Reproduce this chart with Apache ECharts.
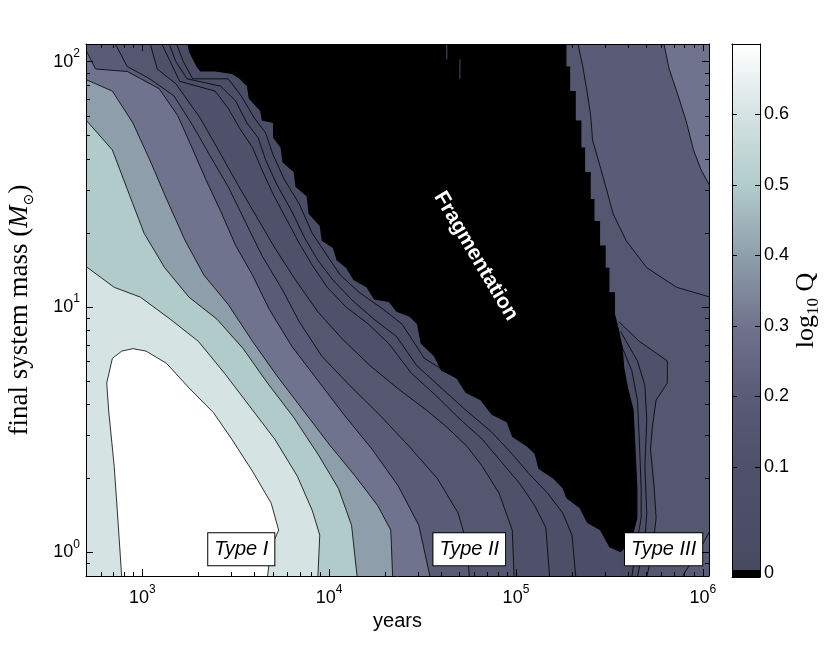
<!DOCTYPE html>
<html>
<head>
<meta charset="utf-8">
<title>log10 Q</title>
<script src="https://cdn.jsdelivr.net/npm/echarts@6.0.0/dist/echarts.min.js"></script>
<style>
  html, body { margin: 0; padding: 0; background: #fff; }
  #chart { width: 830px; height: 648px; }
</style>
</head>
<body>
<div id="chart"></div>
<script>
  // every point below is [log10(years), log10(final system mass / Msun)]
  var xLimits = [2.699, 6.033];
  var yLimits = [-0.0969, 2.072];
  var xMajor = [3, 4, 5, 6];
  var yMajor = [0, 1, 2];
  var minorMult = [2, 3, 4, 5, 6, 7, 8, 9];

  // colour bar (black cap = fragmentation)
  var cbLimits = [-0.056, 0.7];
  var cbBlack = [-0.056, -0.046];
  var cbTickValues = [0.1, 0.2, 0.3, 0.4, 0.5, 0.6];
  var cbLabelValues = [-0.051, 0.1, 0.2, 0.3, 0.4, 0.5, 0.6];
  var cbLabels = ['0', '0.1', '0.2', '0.3', '0.4', '0.5', '0.6'];
  var cmapValues = [-0.046, 0, 0.1, 0.2, 0.3, 0.4, 0.5, 0.6, 0.7];
  var cmapColors = ['#484a62', '#4b4c65', '#4f5069', '#5a5b77', '#70738d', '#8e9fab', '#b1cbcb', '#d5e3e3', '#ffffff'];

  // contours left of the fragmentation zone, named by log10 Q level
  var q07 = [[2.89,-0.1],[2.87,0.13],[2.85,0.35],[2.82,0.58],[2.81,0.69],[2.84,0.79],[2.89,0.82],[2.95,0.83],[3.02,0.82],[3.13,0.77],[3.25,0.67],[3.38,0.57],[3.48,0.46],[3.59,0.33],[3.69,0.20],[3.73,0.09],[3.69,0.02],[3.67,-0.1]];
  var q06 = [[2.69,1.17],[2.85,1.08],[2.99,1.04],[3.15,0.95],[3.30,0.86],[3.44,0.73],[3.57,0.60],[3.71,0.46],[3.83,0.31],[3.91,0.17],[3.95,0.07],[3.94,-0.1]];
  var q05 = [[2.69,1.77],[2.84,1.64],[2.92,1.48],[3.01,1.30],[3.12,1.16],[3.25,1.04],[3.40,0.95],[3.54,0.83],[3.67,0.69],[3.81,0.55],[3.94,0.40],[4.05,0.26],[4.12,0.11],[4.15,-0.1]];
  var q04 = [[2.69,1.93],[2.84,1.88],[2.95,1.75],[3.04,1.60],[3.13,1.44],[3.23,1.27],[3.33,1.13],[3.46,1.01],[3.59,0.86],[3.72,0.72],[3.86,0.58],[4.00,0.44],[4.14,0.31],[4.26,0.19],[4.33,0.09],[4.34,-0.1]];
  var q03 = [[2.69,2.06],[2.75,1.97],[2.92,1.96],[3.09,1.89],[3.19,1.78],[3.26,1.66],[3.34,1.52],[3.42,1.39],[3.50,1.25],[3.59,1.13],[3.68,0.99],[3.80,0.84],[3.94,0.70],[4.08,0.56],[4.23,0.42],[4.37,0.27],[4.48,0.11],[4.54,-0.1]];
  var q02 = [[2.85,2.08],[2.92,1.98],[3.04,1.93],[3.17,1.86],[3.27,1.74],[3.36,1.62],[3.46,1.49],[3.55,1.35],[3.64,1.21],[3.75,1.07],[3.84,0.94],[3.96,0.80],[4.11,0.68],[4.27,0.56],[4.43,0.43],[4.58,0.30],[4.69,0.16],[4.74,0.03],[4.75,-0.1]];
  var q015 = [[3.04,2.08],[3.08,1.97],[3.18,1.91],[3.31,1.77],[3.40,1.65],[3.51,1.50],[3.61,1.37],[3.71,1.24],[3.82,1.11],[3.94,0.98],[4.07,0.87],[4.22,0.76],[4.38,0.66],[4.52,0.58],[4.63,0.51],[4.74,0.43],[4.82,0.35],[4.91,0.24],[4.98,0.09],[4.99,-0.1]];
  var q01 = [[3.10,2.08],[3.15,2.00],[3.20,1.92],[3.39,1.88],[3.46,1.81],[3.52,1.73],[3.59,1.65],[3.64,1.56],[3.70,1.46],[3.77,1.36],[3.84,1.26],[3.91,1.17],[3.99,1.08],[4.09,1.00],[4.21,0.93],[4.32,0.85],[4.44,0.73],[4.57,0.64],[4.69,0.55],[4.82,0.46],[4.92,0.37],[5.02,0.28],[5.10,0.19],[5.16,0.10],[5.18,-0.1]];
  var q005 = [[3.14,2.08],[3.18,2.00],[3.24,1.93],[3.42,1.90],[3.50,1.84],[3.56,1.75],[3.62,1.69],[3.66,1.60],[3.72,1.50],[3.80,1.39],[3.87,1.28],[3.94,1.19],[4.02,1.11],[4.12,1.03],[4.24,0.95],[4.36,0.88],[4.47,0.76],[4.60,0.67],[4.73,0.58],[4.87,0.49],[4.98,0.40],[5.07,0.32],[5.17,0.24],[5.25,0.16],[5.30,0.07],[5.32,-0.1]];
  var q003 = [[3.18,2.08],[3.22,2.00],[3.27,1.93],[3.46,1.93],[3.53,1.86],[3.60,1.77],[3.66,1.71],[3.70,1.62],[3.76,1.52],[3.84,1.42],[3.91,1.30],[3.98,1.22],[4.06,1.13],[4.16,1.06],[4.29,0.99],[4.39,0.93],[4.51,0.79],[4.68,0.71]];

  // contours right of the fragmentation zone
  var rq03 = [[5.79,2.08],[5.82,1.97],[5.86,1.88],[5.91,1.76],[5.95,1.64],[5.99,1.56],[6.04,1.49]];
  var rq02 = [[5.33,2.08],[5.36,1.97],[5.38,1.88],[5.40,1.78],[5.41,1.68],[5.44,1.60],[5.47,1.52],[5.52,1.38],[5.59,1.27],[5.70,1.16],[5.86,1.08],[6.04,1.04]];
  var cornerQ02 = [[6.04,0.09],[5.99,0.02],[5.93,-0.05],[5.89,-0.1]];
  var rq015 = [[5.55,0.94],[5.66,0.86],[5.81,0.78],[5.81,0.69],[5.75,0.62],[5.73,0.51],[5.72,0.42],[5.74,0.26],[5.75,0.14],[5.73,0.00],[5.70,-0.1]];
  var rq01 = [[5.56,0.90],[5.65,0.78],[5.69,0.68],[5.70,0.54],[5.69,0.35],[5.70,0.16],[5.69,0.05],[5.65,-0.1]];
  var rq005 = [[5.55,0.87],[5.62,0.74],[5.65,0.62],[5.66,0.46],[5.67,0.26],[5.67,0.14],[5.65,0.05],[5.62,-0.1]];

  // fragmentation region (Q < 1): right edge top->tip, left edge tip->top
  var fragRight = [[5.27,2.08],[5.27,1.98],[5.29,1.98],[5.29,1.88],[5.32,1.88],[5.32,1.76],[5.35,1.76],[5.35,1.65],[5.37,1.65],[5.37,1.55],[5.40,1.55],[5.40,1.44],[5.42,1.44],[5.42,1.35],[5.45,1.35],[5.45,1.25],[5.48,1.25],[5.48,1.16],[5.50,1.16],[5.50,1.06],[5.53,1.06],[5.53,0.97],[5.55,0.91],[5.57,0.84],[5.58,0.75],[5.60,0.67],[5.63,0.58],[5.64,0.42],[5.65,0.26],[5.65,0.14],[5.63,0.08],[5.60,0.03],[5.56,0.00]];
  var fragLeft = [[5.50,0.02],[5.45,0.09],[5.38,0.12],[5.34,0.18],[5.27,0.22],[5.25,0.26],[5.20,0.30],[5.12,0.34],[5.10,0.40],[5.06,0.43],[4.98,0.47],[4.95,0.53],[4.87,0.56],[4.81,0.62],[4.73,0.65],[4.68,0.71],[4.60,0.74],[4.56,0.80],[4.49,0.85],[4.47,0.93],[4.43,0.96],[4.36,0.98],[4.32,1.02],[4.24,1.03],[4.20,1.08],[4.13,1.11],[4.09,1.16],[4.04,1.19],[4.02,1.24],[3.96,1.27],[3.95,1.33],[3.89,1.38],[3.88,1.45],[3.82,1.49],[3.81,1.55],[3.75,1.59],[3.74,1.65],[3.70,1.69],[3.70,1.75],[3.64,1.76],[3.63,1.80],[3.57,1.85],[3.56,1.90],[3.52,1.93],[3.48,1.95],[3.39,1.96],[3.31,1.96],[3.29,1.98],[3.27,2.01],[3.25,2.04],[3.24,2.08]];
  // thin unresolved streaks inside the fragmentation zone near the top
  var fragStreaks = [[[4.63,2.07],[4.63,2.01]], [[4.70,2.01],[4.70,1.93]]];

  var fragLabelPos = [4.785, 1.207];
  var typeLabels = ['Type I', 'Type II', 'Type III'];
  var typeLabelPos = [[3.53, 0.012], [4.75, 0.012], [5.79, 0.012]];

  var SANS = 'Liberation Sans, Arial, Helvetica, sans-serif';
  var SERIF = 'Liberation Serif, Times New Roman, serif';

  // outer frame used to close the filled regions (clipped by the grid)
  var X0 = 2.69, X1 = 6.04, Y0 = -0.1, Y1 = 2.08;

  function hexToRgb(h) {
    return [parseInt(h.substr(1, 2), 16), parseInt(h.substr(3, 2), 16), parseInt(h.substr(5, 2), 16)];
  }
  function colormap(v) {
    var n = cmapValues.length;
    if (v <= cmapValues[0]) return cmapColors[0];
    if (v >= cmapValues[n - 1]) return cmapColors[n - 1];
    for (var i = 1; i < n; i++) {
      if (v <= cmapValues[i]) {
        var t = (v - cmapValues[i - 1]) / (cmapValues[i] - cmapValues[i - 1]);
        var a = hexToRgb(cmapColors[i - 1]), b = hexToRgb(cmapColors[i]);
        return 'rgb(' + a.map(function (c, k) { return Math.round(c + (b[k] - c) * t); }).join(',') + ')';
      }
    }
  }

  function leftOf(line) {
    var pts = line.slice();
    pts.push([X0, Y0]);
    if (line[0][1] >= Y1) pts.push([X0, Y1]);
    return pts;
  }
  // line that ends on the fragmentation edge: follow that edge down to its tip
  function leftOfFragEnd(line) {
    var endY = line[line.length - 1][1];
    var edge = fragLeft.filter(function (p) { return p[1] < endY; }).reverse();
    var tip = fragRight[fragRight.length - 1];
    return line.concat(edge, [tip, [tip[0], Y0], [X0, Y0], [X0, Y1]]);
  }
  function rightOf(line) {
    var startY = line[0][1];
    var edge = fragRight.filter(function (p) { return p[1] > startY; });
    return line.concat([[X1, Y0], [X1, Y1]], edge);
  }
  function upperRight(line) { return line.concat([[X1, Y1]]); }
  function lowerRight(line) { return line.concat([[X1, Y0]]); }

  var layers = [
    { q: 0,    polys: [[[X0, Y0], [X1, Y0], [X1, Y1], [X0, Y1]]] },
    { q: 0.03, polys: [leftOfFragEnd(q003)] },
    { q: 0.05, polys: [leftOf(q005), rightOf(rq005)] },
    { q: 0.1,  polys: [leftOf(q01), rightOf(rq01)] },
    { q: 0.15, polys: [leftOf(q015), rightOf(rq015)] },
    { q: 0.2,  polys: [leftOf(q02), upperRight(rq02), lowerRight(cornerQ02)] },
    { q: 0.3,  polys: [leftOf(q03), upperRight(rq03)] },
    { q: 0.4,  polys: [leftOf(q04)] },
    { q: 0.5,  polys: [leftOf(q05)] },
    { q: 0.6,  polys: [leftOf(q06)] },
    { q: 0.7,  polys: [q07] }
  ];
  var contourLines = [q07, q06, q05, q04, q03, q02, q015, q01, q005, q003, rq03, rq02, cornerQ02, rq015, rq01, rq005];
  var fragPoly = fragRight.concat(fragLeft);

  function minorTicks(lim) {
    var out = [];
    for (var e = Math.floor(lim[0]); e <= Math.ceil(lim[1]); e++) {
      minorMult.forEach(function (m) {
        var v = e + Math.log10(m);
        if (v > lim[0] + 1e-6 && v < lim[1] - 1e-6) out.push(v);
      });
    }
    return out;
  }
  var xMinor = minorTicks(xLimits);
  var yMinor = minorTicks(yLimits);

  var powRich = {
    b: { fontFamily: SANS, fontSize: 18, lineHeight: 28, color: '#000' },
    s: { fontFamily: SANS, fontSize: 12, lineHeight: 12, verticalAlign: 'top', color: '#000' }
  };
  function powLabel(v) { return '{b|10}{s|' + Math.round(v) + '}'; }

  function renderField(params, api) {
    var children = [];
    function px(p) { return api.coord(p); }
    layers.forEach(function (layer) {
      var fill = colormap(layer.q);
      layer.polys.forEach(function (poly) {
        children.push({ type: 'polygon', shape: { points: poly.map(px) }, style: { fill: fill } });
      });
    });
    children.push({ type: 'polygon', shape: { points: fragPoly.map(px) }, style: { fill: '#000' } });
    fragStreaks.forEach(function (s) {
      children.push({ type: 'polyline', shape: { points: s.map(px) }, style: { stroke: '#4b4c65', lineWidth: 1, fill: null } });
    });
    contourLines.forEach(function (line) {
      children.push({ type: 'polyline', shape: { points: line.map(px) }, style: { stroke: '#000', lineWidth: 0.8, fill: null } });
    });
    return { type: 'group', children: children };
  }

  function renderColorbar(params, api) {
    var lo = api.coord([0, cbBlack[1]]);
    var hi = api.coord([1, cbLimits[1]]);
    var b0 = api.coord([0, cbBlack[0]]);
    var first = cmapValues[0], last = cmapValues[cmapValues.length - 1];
    var stops = cmapValues.map(function (v, i) {
      return { offset: (v - first) / (last - first), color: cmapColors[i] };
    });
    return {
      type: 'group',
      children: [
        { type: 'rect', shape: { x: lo[0], y: hi[1], width: hi[0] - lo[0], height: lo[1] - hi[1] },
          style: { fill: new echarts.graphic.LinearGradient(0, 1, 0, 0, stops) } },
        { type: 'rect', shape: { x: b0[0], y: lo[1], width: hi[0] - b0[0], height: b0[1] - lo[1] },
          style: { fill: '#000' } }
      ]
    };
  }

  var black = { color: '#000', width: 1 };
  function tickAxis(base, extra) {
    return Object.assign({
      type: 'value', z: 5, splitLine: { show: false },
      axisLine: { show: false, onZero: false, lineStyle: black },
      axisLabel: { show: false }
    }, base, extra);
  }

  var chart = echarts.init(document.getElementById('chart'));
  chart.setOption({
    animation: false,
    backgroundColor: '#fff',
    textStyle: { fontFamily: SANS },
    grid: [
      { left: 86, top: 44, right: 121, bottom: 72, outerBoundsMode: 'none' },
      { left: 732, top: 44, right: 70, bottom: 71, outerBoundsMode: 'none' }
    ],
    xAxis: [
      tickAxis({ gridIndex: 0, position: 'bottom', min: xLimits[0], max: xLimits[1] }, {
        axisLine: { show: true, onZero: false, lineStyle: black },
        axisTick: { inside: true, length: 7, customValues: xMajor, lineStyle: black },
        axisLabel: { show: true, customValues: xMajor, margin: 8, formatter: powLabel, rich: powRich },
        name: 'years', nameLocation: 'middle', nameGap: 34,
        nameTextStyle: { fontFamily: SANS, fontSize: 20, color: '#000' }
      }),
      tickAxis({ gridIndex: 0, position: 'bottom', min: xLimits[0], max: xLimits[1] }, {
        axisTick: { inside: true, length: 4, customValues: xMinor, lineStyle: black }
      }),
      tickAxis({ gridIndex: 0, position: 'top', min: xLimits[0], max: xLimits[1] }, {
        axisLine: { show: true, onZero: false, lineStyle: black },
        axisTick: { inside: true, length: 7, customValues: xMajor, lineStyle: black }
      }),
      tickAxis({ gridIndex: 0, position: 'top', min: xLimits[0], max: xLimits[1] }, {
        axisTick: { inside: true, length: 4, customValues: xMinor, lineStyle: black }
      }),
      tickAxis({ gridIndex: 1, position: 'bottom', min: 0, max: 1 }, {
        axisLine: { show: true, onZero: false, lineStyle: black }, axisTick: { show: false }
      }),
      tickAxis({ gridIndex: 1, position: 'top', min: 0, max: 1 }, {
        axisLine: { show: true, onZero: false, lineStyle: black }, axisTick: { show: false }
      })
    ],
    yAxis: [
      tickAxis({ gridIndex: 0, position: 'left', min: yLimits[0], max: yLimits[1] }, {
        axisLine: { show: true, onZero: false, lineStyle: black },
        axisTick: { inside: true, length: 7, customValues: yMajor, lineStyle: black },
        axisLabel: { show: true, customValues: yMajor, margin: 6, formatter: powLabel, rich: powRich },
        name: '{r|final system mass (}{i|M}{s|\u2299}{r|)}', nameLocation: 'middle', nameGap: 50,
        nameTextStyle: {
          color: '#000',
          rich: {
            r: { fontFamily: SERIF, fontSize: 27, lineHeight: 32, color: '#000' },
            i: { fontFamily: SERIF, fontSize: 27, lineHeight: 32, fontStyle: 'italic', color: '#000' },
            s: { fontFamily: 'DejaVu Sans', fontSize: 14, lineHeight: 14, verticalAlign: 'bottom', color: '#000' }
          }
        }
      }),
      tickAxis({ gridIndex: 0, position: 'left', min: yLimits[0], max: yLimits[1] }, {
        axisTick: { inside: true, length: 4, customValues: yMinor, lineStyle: black }
      }),
      tickAxis({ gridIndex: 0, position: 'right', min: yLimits[0], max: yLimits[1] }, {
        axisLine: { show: true, onZero: false, lineStyle: black },
        axisTick: { inside: true, length: 7, customValues: yMajor, lineStyle: black }
      }),
      tickAxis({ gridIndex: 0, position: 'right', min: yLimits[0], max: yLimits[1] }, {
        axisTick: { inside: true, length: 4, customValues: yMinor, lineStyle: black }
      }),
      tickAxis({ gridIndex: 1, position: 'right', min: cbLimits[0], max: cbLimits[1] }, {
        axisLine: { show: true, onZero: false, lineStyle: black },
        axisTick: { inside: true, length: 5, customValues: cbTickValues, lineStyle: black },
        axisLabel: {
          show: true, customValues: cbLabelValues, margin: 4, fontSize: 18, color: '#000', fontFamily: SANS,
          formatter: function (v) {
            var i = cbLabelValues.findIndex(function (c) { return Math.abs(c - v) < 1e-6; });
            return i >= 0 ? cbLabels[i] : '';
          }
        },
        name: '{r|log}{s|10}{r| Q}', nameLocation: 'middle', nameGap: 24, nameRotate: 90,
        nameTextStyle: {
          color: '#000',
          rich: {
            r: { fontFamily: SERIF, fontSize: 26, lineHeight: 32, color: '#000' },
            s: { fontFamily: SERIF, fontSize: 17, lineHeight: 17, verticalAlign: 'bottom', color: '#000' }
          }
        }
      }),
      tickAxis({ gridIndex: 1, position: 'left', min: cbLimits[0], max: cbLimits[1] }, {
        axisLine: { show: true, onZero: false, lineStyle: black },
        axisTick: { inside: true, length: 5, customValues: cbTickValues, lineStyle: black }
      })
    ],
    series: [
      {
        type: 'custom', xAxisIndex: 0, yAxisIndex: 0, clip: true, silent: true,
        renderItem: renderField, data: [[xLimits[0], yLimits[0]]], z: 1
      },
      {
        type: 'custom', xAxisIndex: 4, yAxisIndex: 4, clip: true, silent: true,
        renderItem: renderColorbar, data: [[0, 0]], z: 1
      },
      {
        type: 'scatter', xAxisIndex: 0, yAxisIndex: 0, silent: true, z: 4,
        symbolSize: 0, itemStyle: { opacity: 1 },
        data: [fragLabelPos],
        label: {
          show: true, position: 'inside', formatter: 'Fragmentation', rotate: -59.4,
          color: '#fff', fontWeight: 'bold', fontSize: 21, fontFamily: SANS
        }
      },
      {
        type: 'scatter', xAxisIndex: 0, yAxisIndex: 0, silent: true, z: 4,
        symbolSize: 0, itemStyle: { opacity: 1 },
        data: typeLabelPos,
        label: {
          show: true, position: 'inside',
          formatter: function (p) { return typeLabels[p.dataIndex]; },
          color: '#000', fontStyle: 'italic', fontSize: 20, lineHeight: 24, fontFamily: SANS,
          backgroundColor: '#fff', borderColor: '#000', borderWidth: 1, padding: [4, 6, 4, 6]
        }
      }
    ]
  });
</script>
</body>
</html>
